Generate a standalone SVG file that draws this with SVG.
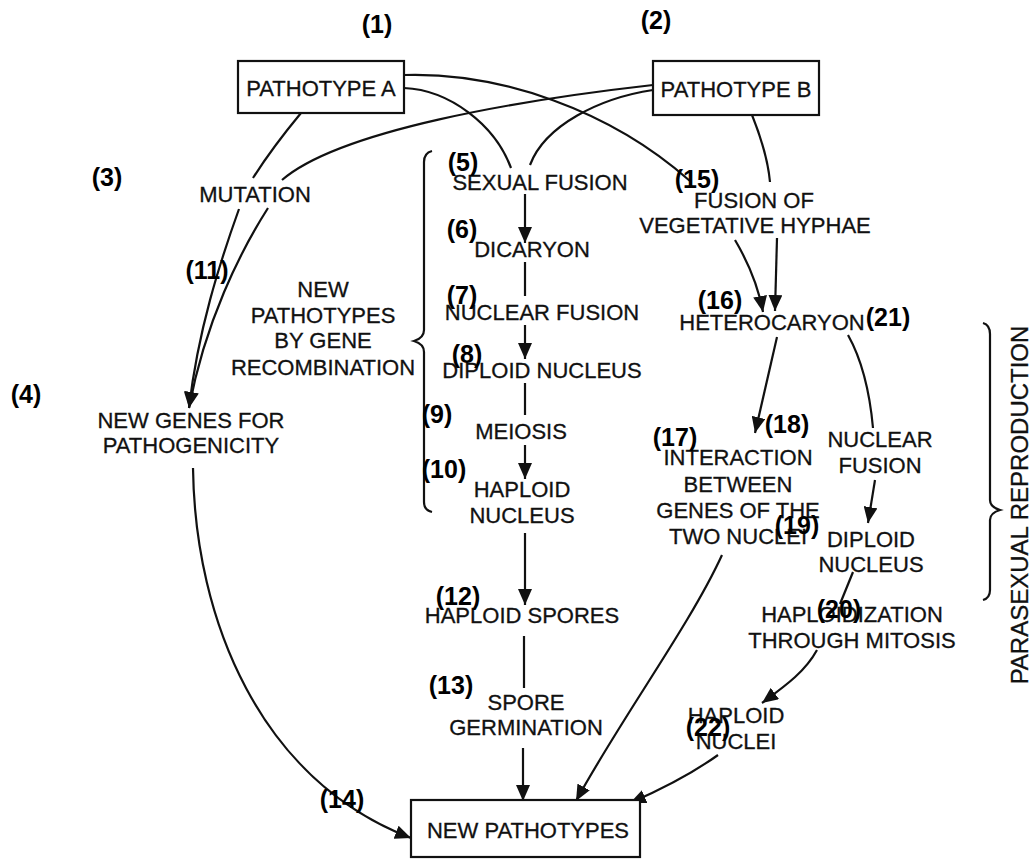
<svg xmlns="http://www.w3.org/2000/svg" width="1034" height="861" viewBox="0 0 1034 861">
<defs>
<style>
.t{font-family:"Liberation Sans",Arial,sans-serif;font-size:22px;fill:#111;text-anchor:middle;stroke:#111;stroke-width:0.3}
.n{font-family:"Liberation Sans",Arial,sans-serif;font-size:25px;font-weight:bold;fill:#000;text-anchor:middle}
.box{fill:#fff;stroke:#111;stroke-width:2.2}
.c{fill:none;stroke:#111;stroke-width:2.2}
.a{fill:none;stroke:#111;stroke-width:2.2;marker-end:url(#ah)}
</style>
<marker id="ah" markerUnits="userSpaceOnUse" markerWidth="18" markerHeight="14" refX="16" refY="7" orient="auto">
<path d="M0,0 L16,7 L0,14 z" fill="#111"/>
</marker>
</defs>
<rect width="1034" height="861" fill="#fff"/>

<g id="connectors">
<path class="a" d="M301,113 Q272,148 253,178 M239,209 C220,262 198,330 189,408"/>
<path class="a" d="M653,85 C520,100 340,130 282,180 M268,208 C240,252 205,322 189,408"/>
<path class="c" d="M404,75 C500,72 610,110 690,181"/>
<path class="a" d="M735,240 C748,262 758,285 763,312"/>
<path class="c" d="M404,88 C450,90 495,125 511,168"/>
<path class="c" d="M653,90 C600,98 545,125 530,165"/>
<path class="c" d="M752,115 C762,140 768,160 770,182"/>
<path class="a" d="M777,238 L775,311"/>
<path class="a" d="M525,194 L525,243"/>
<path class="c" d="M525,262 L525,296"/>
<path class="a" d="M525,325 L525,359"/>
<path class="c" d="M525,383 L525,415"/>
<path class="a" d="M525,445 L525,479"/>
<path class="a" d="M525,533 L525,605"/>
<path class="c" d="M524,636 L524,688"/>
<path class="a" d="M523,748 L523,801"/>
<path class="a" d="M777,337 L755,433"/>
<path class="c" d="M848,335 C862,360 870,395 873,428"/>
<path class="a" d="M875,480 L868,523"/>
<path class="c" d="M853,572 L840,604"/>
<path class="a" d="M817,650 C805,672 785,686 762,703"/>
<path class="a" d="M722,555 C690,625 620,720 576,801"/>
<path class="a" d="M718,755 C690,775 660,790 630,803"/>
<path class="a" d="M193,468 C195,620 260,780 411,838"/>
<path class="c" d="M432,151 Q424,153 424,162 L424,330 Q424,338 414,341 Q424,344 424,352 L424,502 Q424,510 432,512"/>
<path class="c" d="M983,323 Q990,325 990,334 L990,500 Q990,507 1000,510 Q990,513 990,520 L990,590 Q990,598 983,600"/>
</g>

<g id="pathotype-a"><rect class="box" x="238" y="61" width="166" height="52"/><text class="t" x="321" y="96">PATHOTYPE A</text></g>
<g id="pathotype-b"><rect class="box" x="653" y="61" width="166" height="54"/><text class="t" x="736" y="97">PATHOTYPE B</text></g>
<g id="mutation"><text class="t" x="255" y="202">MUTATION</text></g>
<g id="sexual-fusion"><text class="t" x="540" y="190">SEXUAL FUSION</text></g>
<g id="fusion-hyphae"><text class="t" x="754" y="208">FUSION OF</text><text class="t" x="755" y="233">VEGETATIVE HYPHAE</text></g>
<g id="dicaryon"><text class="t" x="532" y="257">DICARYON</text></g>
<g id="recombination"><text class="t" x="323" y="297">NEW</text><text class="t" x="323" y="323">PATHOTYPES</text><text class="t" x="323" y="348">BY GENE</text><text class="t" x="323" y="375">RECOMBINATION</text></g>
<g id="nuclear-fusion"><text class="t" x="542" y="320">NUCLEAR FUSION</text></g>
<g id="heterocaryon"><text class="t" x="772" y="330">HETEROCARYON</text></g>
<g id="diploid-nucleus"><text class="t" x="542" y="378">DIPLOID NUCLEUS</text></g>
<g id="new-genes"><text class="t" x="191" y="428">NEW GENES FOR</text><text class="t" x="191" y="453">PATHOGENICITY</text></g>
<g id="meiosis"><text class="t" x="521" y="439">MEIOSIS</text></g>
<g id="nuclear-fusion-2"><text class="t" x="880" y="447">NUCLEAR</text><text class="t" x="880" y="473">FUSION</text></g>
<g id="interaction"><text class="t" x="738" y="465">INTERACTION</text><text class="t" x="738" y="492">BETWEEN</text><text class="t" x="738" y="518">GENES OF THE</text><text class="t" x="738" y="544">TWO NUCLEI</text></g>
<g id="haploid-nucleus"><text class="t" x="522" y="497">HAPLOID</text><text class="t" x="522" y="523">NUCLEUS</text></g>
<g id="diploid-nucleus-2"><text class="t" x="871" y="547">DIPLOID</text><text class="t" x="871" y="572">NUCLEUS</text></g>
<g id="haploidization"><text class="t" x="852" y="622">HAPLOIDIZATION</text><text class="t" x="852" y="648">THROUGH MITOSIS</text></g>
<g id="haploid-spores"><text class="t" x="522" y="623">HAPLOID SPORES</text></g>
<g id="spore-germination"><text class="t" x="526" y="710">SPORE</text><text class="t" x="526" y="735">GERMINATION</text></g>
<g id="haploid-nuclei"><text class="t" x="736" y="723">HAPLOID</text><text class="t" x="736" y="749">NUCLEI</text></g>
<g id="new-pathotypes"><rect class="box" x="411" y="800" width="229" height="57"/><text class="t" x="528" y="838">NEW PATHOTYPES</text></g>
<g id="parasexual"><text class="t" transform="translate(1028,505) rotate(-90)" x="0" y="0" style="font-size:24px">PARASEXUAL REPRODUCTION</text></g>

<g id="numbers">
<text class="n" x="377" y="33">(1)</text>
<text class="n" x="656" y="29">(2)</text>
<text class="n" x="107" y="186">(3)</text>
<text class="n" x="26" y="403">(4)</text>
<text class="n" x="463" y="171">(5)</text>
<text class="n" x="462" y="238">(6)</text>
<text class="n" x="462" y="304">(7)</text>
<text class="n" x="467" y="363">(8)</text>
<text class="n" x="437" y="423">(9)</text>
<text class="n" x="444" y="478">(10)</text>
<text class="n" x="207" y="279">(11)</text>
<text class="n" x="458" y="605">(12)</text>
<text class="n" x="451" y="694">(13)</text>
<text class="n" x="342" y="808">(14)</text>
<text class="n" x="697" y="188">(15)</text>
<text class="n" x="720" y="309">(16)</text>
<text class="n" x="675" y="446">(17)</text>
<text class="n" x="787" y="433">(18)</text>
<text class="n" x="797" y="534">(19)</text>
<text class="n" x="839" y="618">(20)</text>
<text class="n" x="888" y="326">(21)</text>
<text class="n" x="708" y="736">(22)</text>
</g>
</svg>
